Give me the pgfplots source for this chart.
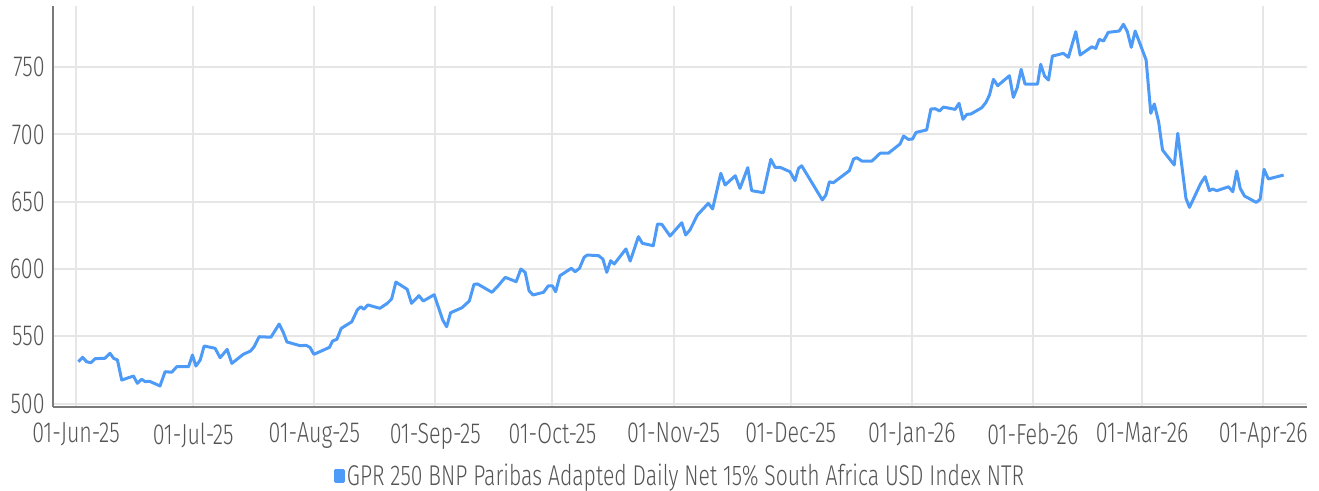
\documentclass[border=0pt]{standalone}
\usepackage{pgfplots}
\pgfplotsset{compat=1.18}
\usepackage{fontspec}
\IfFontExistsTF{Fira Sans Light}{\setmainfont{Fira Sans Light}[FakeStretch=0.74]}{\setmainfont{Fira Sans}[FakeStretch=0.74]}
\definecolor{lineblue}{HTML}{4D9BF7}
\definecolor{gridgray}{HTML}{E6E6E6}
\definecolor{axisgray}{HTML}{7A7A7A}
\definecolor{labelgray}{HTML}{555555}
\pgfplotstableread{
d v
0.6 531.1
1.7 534.4
2.7 531.1
3.8 530.4
4.9 533.4
7.4 533.7
8.7 537.4
9.6 533.7
10.6 532.4
11.7 517.5
14.7 520.5
15.7 515.1
16.8 518.1
17.7 516.3
18.8 516.6
21.5 513.1
22.8 523.7
24.5 523.3
25.8 527.4
28.8 527.4
29.8 536.1
30.7 527.9
31.8 532.4
32.8 542.8
35.6 541.1
36.9 534.1
38.7 540.3
39.9 529.9
42.8 536.6
44.7 539.1
45.6 542.3
46.9 549.7
49.9 549.3
52.0 559.1
53.1 552.7
54.0 545.8
57.4 543.0
58.9 543.3
59.9 541.8
60.9 536.6
64.9 541.8
65.7 546.5
66.8 547.8
67.9 555.9
70.6 560.8
72.0 569.5
72.9 572.0
73.7 570.1
74.7 573.3
77.8 570.8
79.7 574.5
80.8 577.7
81.9 590.3
84.8 584.9
85.9 574.5
87.8 580.2
88.9 576.2
91.7 580.9
93.9 562.1
94.9 557.1
95.9 567.5
98.8 571.2
100.7 576.2
101.9 588.6
102.8 588.9
106.5 582.7
108.1 587.6
109.9 593.8
112.7 590.6
113.9 600.0
115.0 597.5
116.0 583.9
117.0 580.7
119.7 582.7
120.9 587.4
122.0 587.4
122.8 583.1
123.9 595.0
126.8 600.5
127.8 598.0
128.9 600.5
130.1 608.7
130.9 610.4
133.8 609.9
134.9 607.4
135.9 597.5
136.9 606.2
137.8 603.7
140.8 614.9
141.9 605.9
144.0 624.0
145.0 619.1
147.8 617.3
148.9 633.4
150.0 633.2
152.1 624.5
155.1 634.4
156.1 625.3
157.2 629.0
159.1 640.1
161.9 648.8
163.0 644.6
165.1 671.1
166.2 662.4
168.8 669.3
170.0 659.9
172.0 675.3
173.0 658.2
176.0 656.7
177.9 681.5
179.0 675.5
180.3 675.5
182.8 672.3
184.1 665.6
185.0 674.8
185.8 676.7
191.1 651.3
192.0 655.0
192.9 664.8
193.9 664.1
198.0 673.0
199.1 681.7
199.9 682.7
201.2 680.2
203.8 680.2
205.9 686.0
208.0 686.0
211.0 692.9
211.9 698.8
213.1 696.3
214.2 696.6
215.1 701.5
217.8 703.3
218.9 718.9
220.0 719.1
221.1 717.4
222.1 720.3
225.1 718.6
226.1 723.1
227.1 711.2
228.1 714.9
229.1 715.1
231.9 719.8
233.0 723.8
233.9 729.3
234.9 740.9
236.0 736.2
239.0 743.6
240.0 727.5
241.0 734.7
242.0 748.3
243.0 737.4
246.2 737.4
247.0 752.1
248.0 743.4
249.0 740.4
250.0 758.2
252.8 760.2
254.1 757.3
256.0 776.3
257.1 759.0
260.1 765.1
261.1 763.9
262.0 770.6
263.1 769.4
264.3 775.8
267.1 776.8
268.2 781.8
269.2 776.3
270.2 764.7
271.2 776.8
274.0 755.3
275.2 715.7
276.1 722.6
277.2 709.4
278.2 688.4
281.2 677.3
282.1 700.8
284.2 652.5
285.1 645.8
288.0 663.7
289.1 668.6
290.2 658.2
291.0 659.4
292.1 658.2
295.1 661.1
296.2 657.4
297.2 672.8
298.1 659.9
299.2 654.2
302.2 649.5
303.2 651.8
304.2 674.1
305.3 666.9
309.2 669.8
}\idx
\begin{document}
\begin{tikzpicture}
\path[use as bounding box] (-26.5bp,-42.15bp) rectangle (633bp,203.35bp);
\begin{axis}[
  at={(0,0)}, anchor=south west,
  scale only axis,
  width=627bp, height=200.35bp,
  xmin=-5.9, xmax=315.2,
  ymin=497.7, ymax=795.4,
  axis x line*=bottom, axis y line*=left,
  axis line style={axisgray, line width=1bp, -},
  xtick={0,30,61,92,122,153,183,214,245,273,304},
  xticklabels={01-Jun-25,01-Jul-25,01-Aug-25,01-Sep-25,01-Oct-25,01-Nov-25,01-Dec-25,01-Jan-26,01-Feb-26,01-Mar-26,01-Apr-26},
  ytick={500,550,600,650,700,750},
  major tick length=0pt,
  grid=major,
  major grid style={gridgray, line width=1bp},
  /pgf/number format/assume math mode=true,
  /pgf/number format/1000 sep={},
  every tick label/.append style={font=\fontsize{14.5bp}{16bp}\selectfont, text=labelgray},
  yticklabel style={anchor=east, inner sep=0pt, xshift=-4bp},
  xticklabel style={anchor=north, inner sep=0pt, yshift=-8bp},
  legend style={at={(0.5,-0.173)}, anchor=center, draw=none, fill=none,
    font=\fontsize{14.3bp}{15.5bp}\selectfont, text=labelgray,
    nodes={inner sep=1bp}},
  legend cell align=left,
  legend image code/.code={\fill[lineblue] (0bp,-2.8bp) rectangle (4bp,2.8bp);},
]
\addplot[lineblue, line width=1.5bp, line join=round, no markers] table[x=d, y=v] {\idx};
\addlegendentry{GPR 250 BNP Paribas Adapted Daily Net 15\% South Africa USD Index NTR}
\end{axis}
\end{tikzpicture}
\end{document}
